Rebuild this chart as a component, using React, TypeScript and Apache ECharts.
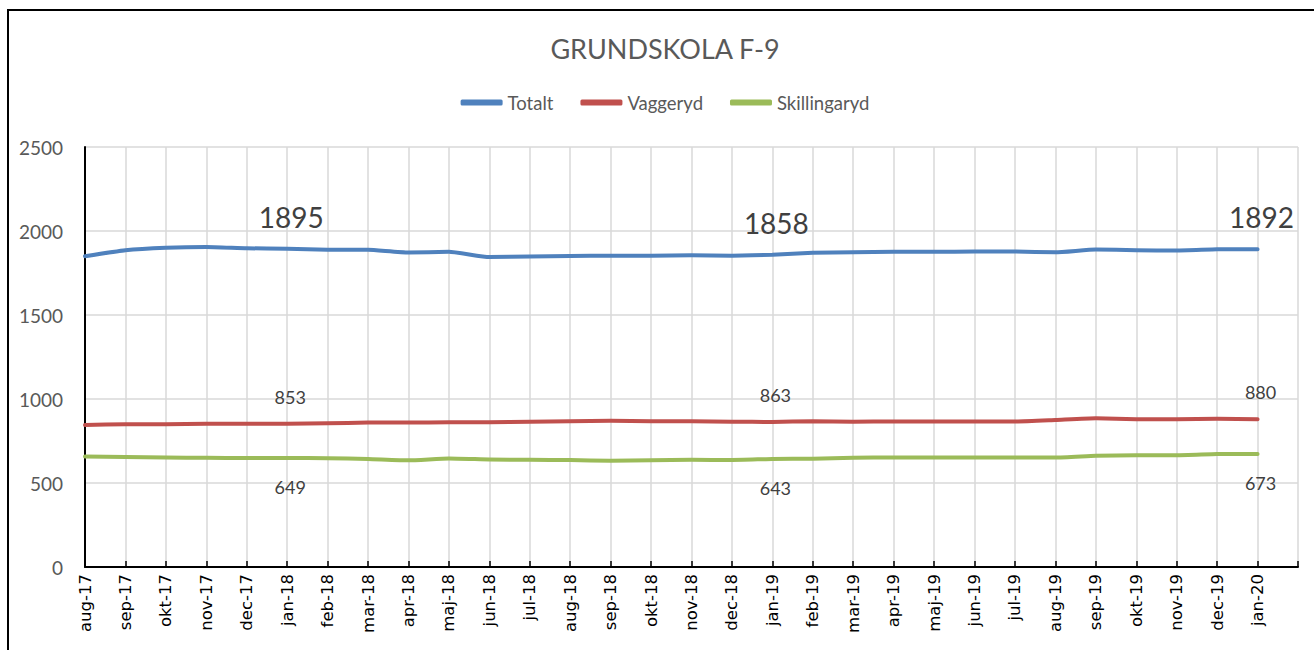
import React, { useEffect, useRef } from "react";
import * as echarts from "echarts";

const categories = [
  "aug-17", "sep-17", "okt-17", "nov-17", "dec-17", "jan-18", "feb-18", "mar-18", "apr-18", "maj-18",
  "jun-18", "jul-18", "aug-18", "sep-18", "okt-18", "nov-18", "dec-18", "jan-19", "feb-19", "mar-19",
  "apr-19", "maj-19", "jun-19", "jul-19", "aug-19", "sep-19", "okt-19", "nov-19", "dec-19", "jan-20", "",
];

const totalt = [
  1850, 1885, 1900, 1905, 1897, 1895, 1889, 1888, 1872, 1876,
  1845, 1848, 1851, 1853, 1853, 1855, 1853, 1858, 1870, 1874,
  1876, 1876, 1878, 1878, 1873, 1890, 1885, 1884, 1891, 1892,
];

const vaggeryd = [
  845, 850, 850, 852, 853, 853, 855, 860, 860, 861,
  862, 865, 868, 870, 868, 868, 865, 863, 868, 865,
  866, 866, 866, 866, 875, 885, 880, 879, 882, 880,
];

const skillingaryd = [
  658, 655, 652, 650, 649, 649, 647, 643, 635, 646,
  640, 638, 637, 632, 635, 638, 637, 643, 645, 650,
  652, 652, 652, 652, 652, 662, 665, 665, 672, 673,
];

const labelIdx = [5, 17, 29];

const yTicks = { min: 0, max: 2500, interval: 500 };

const FONT = "Lato, 'Open Sans', sans-serif";

function withLabels(values: number[], label: any) {
  return values.map((v, i) =>
    labelIdx.includes(i)
      ? { value: v, label: { show: true, ...label } }
      : { value: v, label: { show: false } }
  );
}

export default function App() {
  const ref = useRef<HTMLDivElement>(null);

  useEffect(() => {
    if (!ref.current) return;
    const chart = echarts.init(ref.current, undefined, { renderer: "svg" });
    const lineCommon = {
      type: "line",
      symbol: "circle",
      symbolSize: 0,
      showSymbol: true,
      smooth: 0.15,
      z: 3,
    };
    chart.setOption({
      animation: false,
      backgroundColor: "#ffffff",
      textStyle: { fontFamily: FONT },
      graphic: [
        {
          type: "rect",
          shape: { x: 8, y: 10, width: 1400, height: 700 },
          style: { fill: "none", stroke: "#000", lineWidth: 2 },
          silent: true,
        },
      ],
      title: {
        text: "GRUNDSKOLA F-9",
        left: "center",
        top: 29,
        textStyle: {
          fontFamily: FONT,
          fontSize: 27,
          lineHeight: 28,
          fontWeight: "normal",
          color: "#595959",
        },
      },
      legend: {
        top: 88,
        left: "center",
        icon: "roundRect",
        itemWidth: 42,
        itemHeight: 6,
        itemGap: 27,
        textStyle: { fontSize: 18.5, lineHeight: 18, color: "#595959", fontFamily: FONT },
        data: ["Totalt", "Vaggeryd", "Skillingaryd"],
      },
      grid: { left: 85, right: 32, top: 147, bottom: 83 },
      xAxis: {
        type: "category",
        data: categories,
        boundaryGap: false,
        axisLine: { show: true, lineStyle: { color: "#000", width: 2 } },
        axisTick: { show: true, inside: true, length: 6, interval: 0, lineStyle: { color: "#000", width: 1.5 } },
        splitLine: { show: true, interval: 0, lineStyle: { color: "#d9d9d9", width: 1.5 } },
        axisLabel: {
          interval: 0,
          rotate: 90,
          margin: 7,
          fontSize: 16.5,
          color: "#000",
          fontFamily: "'DejaVu Sans', sans-serif",
        },
      },
      yAxis: {
        type: "value",
        min: yTicks.min,
        max: yTicks.max,
        interval: yTicks.interval,
        axisLine: { show: true, lineStyle: { color: "#000", width: 2 } },
        axisTick: { show: false },
        splitLine: { show: true, lineStyle: { color: "#d9d9d9", width: 1.5 } },
        axisLabel: {
          fontSize: 19,
          color: "#595959",
          margin: 22,
          fontFamily: FONT,
          formatter: (v: number) => String(v),
        },
      },
      series: [
        {
          ...lineCommon,
          name: "Totalt",
          color: "#4f81bd",
          itemStyle: { color: "#4f81bd" },
          lineStyle: { width: 4, color: "#4f81bd", cap: "round", join: "round" },
          data: withLabels(totalt, {
            position: "top",
            distance: 18,
            offset: [4, 0],
            fontSize: 28,
            lineHeight: 28,
            color: "#404040",
            fontFamily: FONT,
          }),
        },
        {
          ...lineCommon,
          name: "Vaggeryd",
          color: "#c0504d",
          itemStyle: { color: "#c0504d" },
          lineStyle: { width: 4, color: "#c0504d", cap: "round", join: "round" },
          data: withLabels(vaggeryd, {
            position: "top",
            distance: 18,
            offset: [3, 0],
            fontSize: 18,
            lineHeight: 18,
            color: "#404040",
            fontFamily: FONT,
          }),
        },
        {
          ...lineCommon,
          name: "Skillingaryd",
          color: "#9bbb59",
          itemStyle: { color: "#9bbb59" },
          lineStyle: { width: 4, color: "#9bbb59", cap: "round", join: "round" },
          data: withLabels(skillingaryd, {
            position: "bottom",
            distance: 20,
            offset: [3, 0],
            fontSize: 18,
            lineHeight: 18,
            color: "#404040",
            fontFamily: FONT,
          }),
        },
      ],
    });
    return () => chart.dispose();
  }, []);

  return (
    <div
      style={{
        position: "fixed",
        left: 0,
        top: 0,
        width: 1314,
        height: 650,
        overflow: "hidden",
        background: "#fff",
      }}
    >
      <div ref={ref} style={{ width: 1330, height: 650 }} />
    </div>
  );
}
